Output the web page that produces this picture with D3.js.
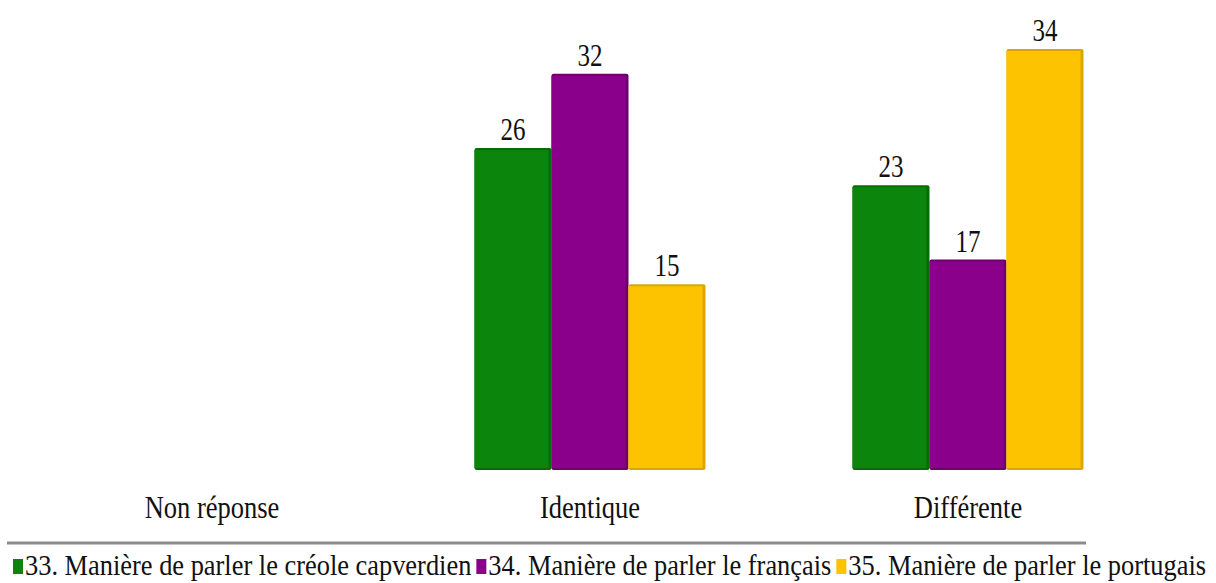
<!DOCTYPE html>
<html>
<head>
<meta charset="utf-8">
<script src="https://cdn.jsdelivr.net/npm/d3@7"></script>
<style>
  body { margin: 0; background: #fff; }
  text { font-family: "Liberation Serif", "DejaVu Serif", serif; fill: #111; }
</style>
</head>
<body>
<svg id="chart" width="1216" height="583"></svg>
<script>
// data
var categories = ["Non réponse", "Identique", "Différente"];
var seriesNames = [
  "33. Manière de parler le créole capverdien",
  "34. Manière de parler le français",
  "35. Manière de parler le portugais"
];
var creole = [0, 26, 23];
var francais = [0, 32, 17];
var portugais = [0, 15, 34];
var colors = ["#0b850b", "#8a008a", "#fec300"];
var darkColors = ["#076c07", "#6d006d", "#dca600"];

var series = [creole, francais, portugais];

var svg = d3.select("#chart");
var sy = 1.2; // text looks stretched vertically in the original

// scales
var x0 = d3.scaleBand().domain(categories).range([23, 1157]).paddingInner(0).paddingOuter(0);
var x1 = d3.scaleBand().domain(d3.range(3)).range([0, 231]);
var y = d3.scaleLinear().domain([0, 34]).range([470, 49]);

var groups = svg.selectAll("g.grp")
  .data(categories)
  .join("g")
  .attr("class", "grp")
  .attr("transform", d => "translate(" + (x0(d) + x0.bandwidth() / 2 - 115.5) + ",0)");

groups.each(function(cat, ci) {
  var g = d3.select(this);
  series.forEach(function(vals, si) {
    var v = vals[ci];
    if (!v) return;
    var bx = x1(si), bw = x1.bandwidth(), top = y(v), h = y(0) - y(v);
    g.append("rect")
      .attr("x", bx).attr("y", top).attr("width", bw).attr("height", h)
      .attr("rx", 2).attr("fill", darkColors[si]);
    g.append("rect")
      .attr("x", bx).attr("y", top + 2).attr("width", bw - 3).attr("height", h - 4)
      .attr("fill", colors[si]);
    g.append("text")
      .attr("transform", "translate(" + (bx + bw / 2) + "," + (top - 8) + ") scale(1," + 1.3 + ")")
      .attr("text-anchor", "middle")
      .style("font-size", "25px")
      .text(v);
  });
});

// category labels
svg.selectAll("text.cat")
  .data(categories)
  .join("text")
  .attr("class", "cat")
  .attr("transform", d => "translate(" + (x0(d) + x0.bandwidth() / 2) + ",518) scale(1," + sy + ")")
  .attr("text-anchor", "middle")
  .style("font-size", "26.5px")
  .text(d => d);

// axis line
svg.append("line")
  .attr("x1", 7).attr("x2", 1086)
  .attr("y1", 543).attr("y2", 543)
  .attr("stroke", "#8c8c8c").attr("stroke-width", 3);

// legend
var lx = 13;
seriesNames.forEach(function(name, i) {
  svg.append("rect")
    .attr("x", lx).attr("y", 559).attr("width", 10).attr("height", 15)
    .attr("fill", colors[i]);
  var t = svg.append("text")
    .attr("transform", "translate(" + (lx + 12) + ",575) scale(1,1.1)")
    .style("font-size", "26.4px")
    .text(name);
  lx += 12 + t.node().getComputedTextLength() + 5;
});
</script>
</body>
</html>
